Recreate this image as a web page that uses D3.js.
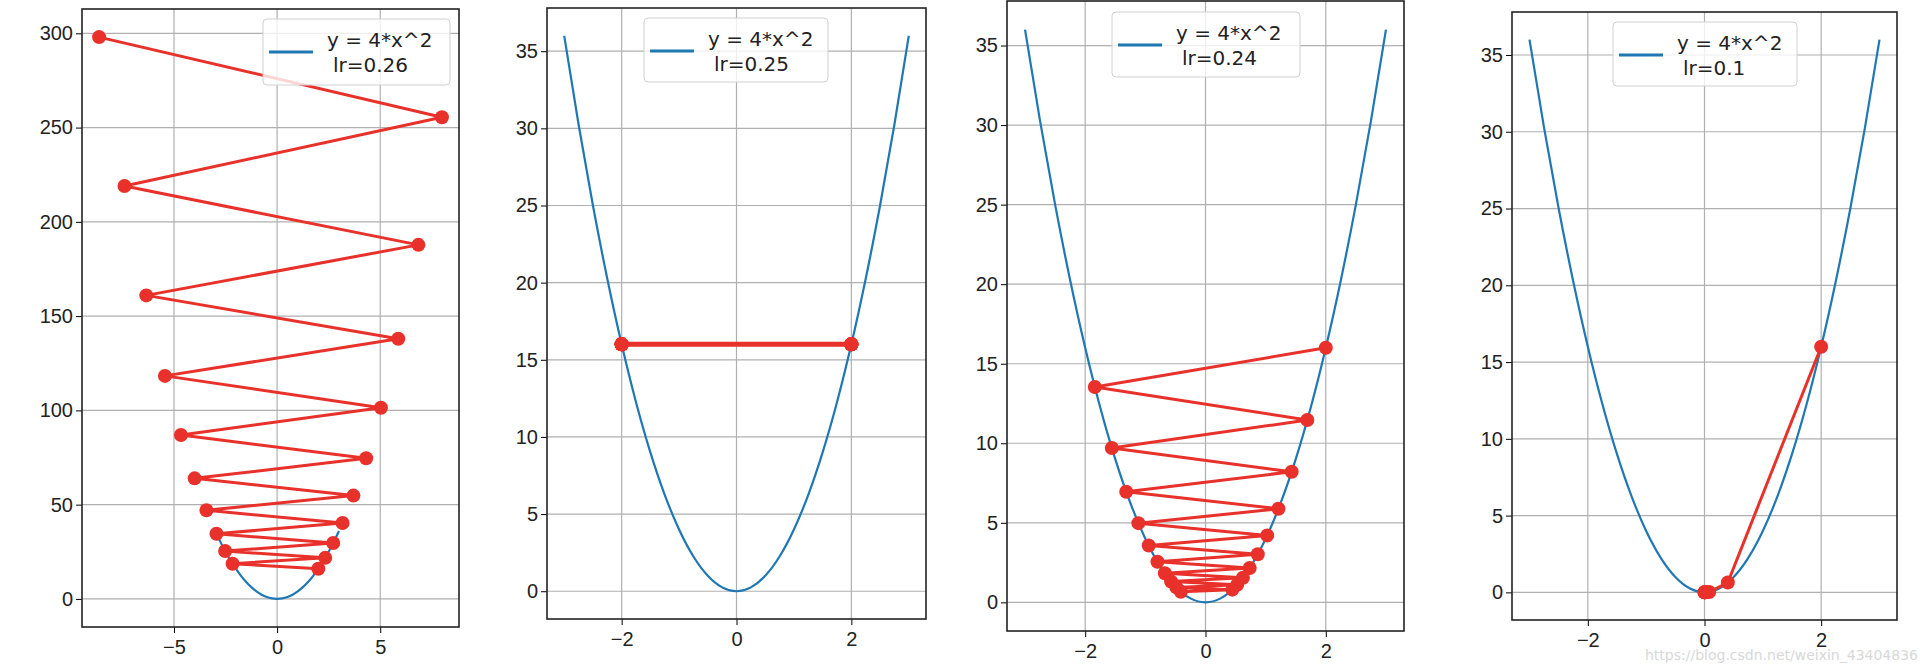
<!DOCTYPE html>
<html>
<head>
<meta charset="utf-8">
<script src="https://cdn.jsdelivr.net/npm/d3@7"></script>
<style>
  body { margin: 0; background: #fff; }
  svg { font-family: 'DejaVu Sans', sans-serif; }
</style>
</head>
<body>
<svg width="1920" height="664"></svg>
<script>
const BLUE = '#1f77b4';
const RED = '#e8312a';

// y = 4*x^2 sampled
const curveX = [-3, -2.75, -2.5, -2.25, -2, -1.75, -1.5, -1.25, -1, -0.75, -0.5, -0.25, 0,
  0.25, 0.5, 0.75, 1, 1.25, 1.5, 1.75, 2, 2.25, 2.5, 2.75, 3];
const curveY = [36, 30.25, 25, 20.25, 16, 12.25, 9, 6.25, 4, 2.25, 1, 0.25, 0,
  0.25, 1, 2.25, 4, 6.25, 9, 12.25, 16, 20.25, 25, 30.25, 36];

// descent steps per learning rate
const lrLabels = ['lr=0.26', 'lr=0.25', 'lr=0.24', 'lr=0.1'];
const stepsX026 = [2, -2.16, 2.333, -2.519, 2.721, -2.939, 3.174, -3.427, 3.702, -3.998,
  4.318, -4.663, 5.036, -5.439, 5.874, -6.344, 6.852, -7.4, 7.992, -8.631];
const stepsY026 = [16, 18.66, 21.77, 25.39, 29.62, 34.55, 40.3, 46.99, 54.81, 63.94,
  74.58, 86.97, 101.4, 118.3, 138.0, 161.0, 187.8, 219.0, 255.5, 298.0];
const stepsX025 = [2, -2, 2, -2, 2, -2, 2, -2, 2, -2, 2, -2, 2, -2, 2, -2, 2, -2, 2, -2];
const stepsY025 = [16, 16, 16, 16, 16, 16, 16, 16, 16, 16, 16, 16, 16, 16, 16, 16, 16, 16, 16, 16];
const stepsX024 = [2, -1.84, 1.693, -1.557, 1.433, -1.318, 1.213, -1.116, 1.026, -0.944,
  0.869, -0.799, 0.735, -0.676, 0.622, -0.572, 0.527, -0.485, 0.446, -0.41];
const stepsY024 = [16, 13.54, 11.46, 9.7, 8.21, 6.95, 5.88, 4.98, 4.21, 3.57,
  3.02, 2.55, 2.16, 1.83, 1.55, 1.31, 1.11, 0.94, 0.8, 0.67];
const stepsX01 = [2, 0.4, 0.08, 0.016, 0.0032, 0.00064, 0.00013, 0.00003];
const stepsY01 = [16, 0.64, 0.0256, 0.001, 0.00004, 0, 0, 0];

const xTicks1 = [-5, 0, 5];
const yTicks1 = [0, 50, 100, 150, 200, 250, 300];
const xTicks = [-2, 0, 2];
const yTicks = [0, 5, 10, 15, 20, 25, 30, 35];

const panels = [
  { box: [82, 9, 459, 627], xd: [-9.46, 8.82], yd: [-14.9, 312.9], xt: xTicks1, yt: yTicks1,
    sx: stepsX026, sy: stepsY026, leg: [263, 19, 187, 66], lw: 3 },
  { box: [547, 8, 926, 619], xd: [-3.3, 3.3], yd: [-1.8, 37.8], xt: xTicks, yt: yTicks,
    sx: stepsX025, sy: stepsY025, leg: [644, 18, 184, 64], lw: 5 },
  { box: [1007, 1, 1404, 631], xd: [-3.3, 3.3], yd: [-1.8, 37.8], xt: xTicks, yt: yTicks,
    sx: stepsX024, sy: stepsY024, leg: [1112, 12, 188, 65], lw: 3 },
  { box: [1512, 12, 1897, 620], xd: [-3.3, 3.3], yd: [-1.8, 37.8], xt: xTicks, yt: yTicks,
    sx: stepsX01, sy: stepsY01, leg: [1613, 22, 184, 64], lw: 3 }
];

const svg = d3.select('svg');
const fmt = v => (v < 0 ? '\u2212' + Math.abs(v) : String(v));

panels.forEach((p, i) => {
  const [x0, y0, x1, y1] = p.box;
  const x = d3.scaleLinear().domain(p.xd).range([x0, x1]);
  const y = d3.scaleLinear().domain(p.yd).range([y1, y0]);
  const g = svg.append('g');
  const clipId = 'clip' + i;
  g.append('clipPath').attr('id', clipId)
    .append('rect').attr('x', x0).attr('y', y0).attr('width', x1 - x0).attr('height', y1 - y0);

  // grid
  g.selectAll('.gx').data(p.xt).join('line')
    .attr('x1', d => x(d)).attr('x2', d => x(d)).attr('y1', y0).attr('y2', y1)
    .attr('stroke', '#b0b0b0').attr('stroke-width', 1.2);
  g.selectAll('.gy').data(p.yt).join('line')
    .attr('y1', d => y(d)).attr('y2', d => y(d)).attr('x1', x0).attr('x2', x1)
    .attr('stroke', '#b0b0b0').attr('stroke-width', 1.2);

  const plot = g.append('g').attr('clip-path', `url(#${clipId})`);
  plot.append('path')
    .datum(d3.zip(curveX, curveY))
    .attr('d', d3.line().x(d => x(d[0])).y(d => y(d[1])).curve(d3.curveMonotoneX))
    .attr('fill', 'none').attr('stroke', BLUE).attr('stroke-width', 2.2);

  const pts = d3.zip(p.sx, p.sy);
  plot.append('path').datum(pts)
    .attr('d', d3.line().x(d => x(d[0])).y(d => y(d[1])))
    .attr('fill', 'none').attr('stroke', RED).attr('stroke-width', p.lw);
  plot.selectAll('circle').data(pts).join('circle')
    .attr('cx', d => x(d[0])).attr('cy', d => y(d[1])).attr('r', 7).attr('fill', RED);

  // axes
  g.append('g').attr('transform', `translate(0,${y1})`)
    .call(d3.axisBottom(x).tickValues(p.xt).tickFormat(fmt).tickSize(6).tickSizeOuter(0))
    .call(a => a.select('.domain').remove())
    .call(a => a.selectAll('text').attr('font-size', 20).attr('fill', '#222').attr('dy', '0.9em'));
  g.append('g').attr('transform', `translate(${x0},0)`)
    .call(d3.axisLeft(y).tickValues(p.yt).tickFormat(fmt).tickSize(6).tickSizeOuter(0))
    .call(a => a.select('.domain').remove())
    .call(a => a.selectAll('text').attr('font-size', 20).attr('fill', '#222'));
  g.append('rect').attr('x', x0).attr('y', y0).attr('width', x1 - x0).attr('height', y1 - y0)
    .attr('fill', 'none').attr('stroke', '#222').attr('stroke-width', 1.6);

  // legend
  const [lx, ly, lw, lh] = p.leg;
  const lg = g.append('g').attr('transform', `translate(${lx},${ly})`);
  lg.append('rect').attr('width', lw).attr('height', lh).attr('rx', 4)
    .attr('fill', 'rgba(255,255,255,0.8)').attr('stroke', '#d0d0d0');
  lg.append('line').attr('x1', 6).attr('x2', 50).attr('y1', 33).attr('y2', 33)
    .attr('stroke', BLUE).attr('stroke-width', 3);
  lg.append('text').attr('x', 64).attr('y', 28).attr('font-size', 20).attr('fill', '#222')
    .text('y = 4*x^2');
  lg.append('text').attr('x', 70).attr('y', 53).attr('font-size', 20).attr('fill', '#222')
    .text(lrLabels[i]);
});

svg.append('text').attr('x', 1918).attr('y', 660).attr('text-anchor', 'end')
  .attr('font-size', 14).attr('fill', '#d8d8d8').text('https://blog.csdn.net/weixin_43404836');
</script>
</body>
</html>
